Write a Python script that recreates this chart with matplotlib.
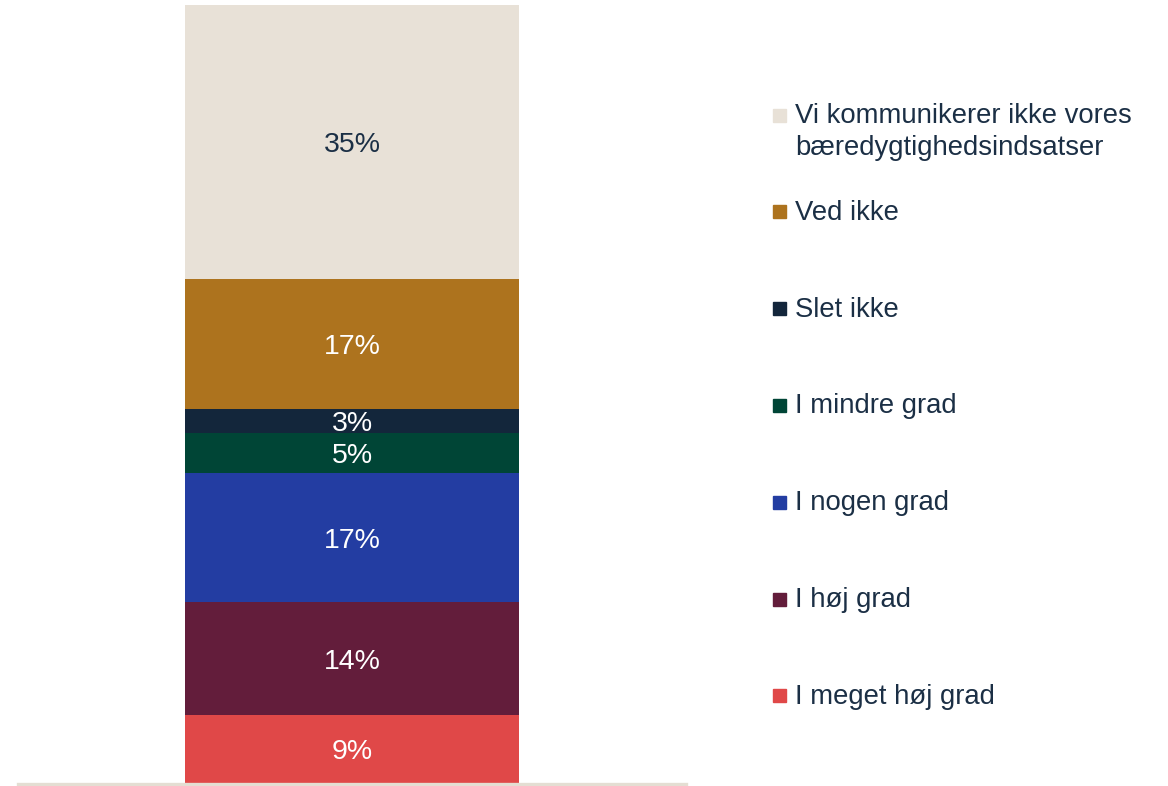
import matplotlib
matplotlib.use('Agg')
import matplotlib.pyplot as plt
from matplotlib.patches import Rectangle

plt.rcParams['font.family'] = ['Liberation Sans', 'DejaVu Sans']

# stacked from bottom to top
categories = ['I meget høj grad', 'I høj grad', 'I nogen grad', 'I mindre grad',
              'Slet ikke', 'Ved ikke', 'Vi kommunikerer ikke vores\nbæredygtighedsindsatser']
values = [8.9, 14.4, 16.6, 5.1, 3.1, 16.7, 35.2]
colors = ['#E04848', '#631D3B', '#233DA2', '#004536', '#13263B', '#AD731E', '#E8E1D7']
label_colors = ['white'] * 6 + ['#1B2F45']

fig = plt.figure(figsize=(11.68, 7.86), dpi=100)
ax = fig.add_axes([18 / 1168, 2 / 786, 668 / 1168, 779 / 786])

bottom = 0
for cat, v, c, lc in zip(categories, values, colors, label_colors):
    ax.bar(0, v, width=1, bottom=bottom, color=c)
    ax.text(0, bottom + v / 2, f"{v:.0f}%", ha='center', va='center_baseline',
            color=lc, fontsize=20.5)
    bottom += v

ax.set_xlim(-1, 1)
ax.set_ylim(0, bottom)
ax.axhline(0, color='#E4DED3', lw=2.4, clip_on=False)
for s in ax.spines.values():
    s.set_visible(False)
ax.set_xticks([])
ax.set_yticks([])

# legend, top entry first; square sits on the first line of the label
text_color = '#1B2F45'
y0 = 115
step = 96.8
line_h = 32
for i, (cat, c) in enumerate(zip(categories[::-1], colors[::-1])):
    yc = 1 - (y0 + i * step) / 786
    fig.patches.append(Rectangle((773 / 1168, yc - 6.5 / 786), 13 / 1168, 13 / 786,
                                 transform=fig.transFigure, color=c))
    extra = cat.count('\n') * line_h
    fig.text(795 / 1168, yc - (8 + extra) / 786, cat, ha='left', va='baseline',
             color=text_color, fontsize=19.8, linespacing=1.3)

fig.savefig('out.png', dpi=100)
